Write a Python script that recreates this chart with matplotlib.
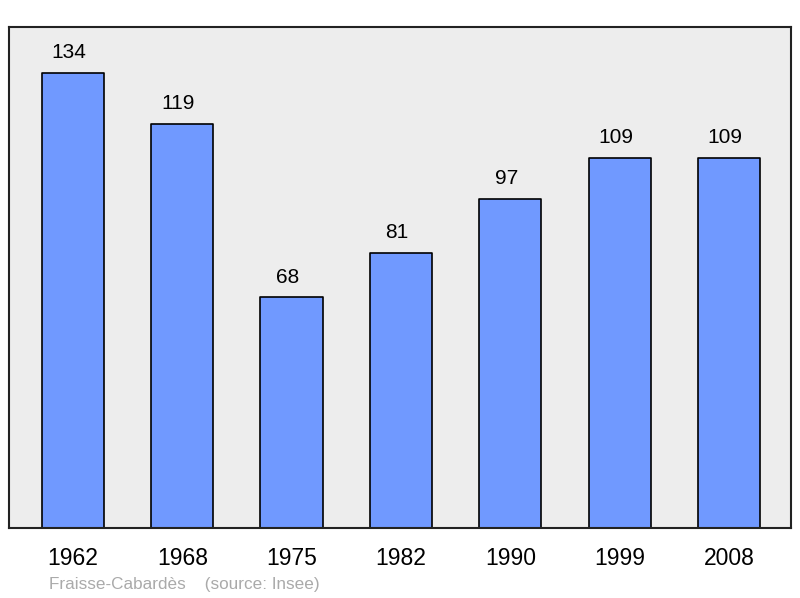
import numpy as np
import matplotlib
matplotlib.use("Agg")
import matplotlib.pyplot as plt

years = ["1962", "1968", "1975", "1982", "1990", "1999", "2008"]
population = [134, 119, 68, 81, 97, 109, 109]

plt.rcParams['font.family'] = ['Liberation Sans', 'DejaVu Sans']

fig = plt.figure(figsize=(8, 5.98), dpi=100)
ax = fig.add_axes([9/800, 70/598, 782/800, 501/598])
ax.set_facecolor("#ededed")

x = np.arange(len(years))
bars = ax.bar(x, population, width=0.57, color="#7099ff", edgecolor="black",
              linewidth=1.2, joinstyle="round", zorder=2)

for xi, v in zip(x, population):
    ax.annotate(str(v), (xi, v), xytext=(-3, 7.5), textcoords="offset points",
                ha="center", va="bottom", fontsize=15)

ax.set_xlim(-0.585, len(years) - 1 + 0.567)
ax.set_ylim(0, 147.5)
ax.set_xticks(x)
ax.set_xticklabels(years, fontsize=16.5)
ax.tick_params(axis="x", length=0, pad=14)
ax.set_yticks([])
for s in ax.spines.values():
    s.set_linewidth(1.5)
    s.set_color("#222222")

fig.text(49/800, 1 - 584/598, "Fraisse-Cabardès    (source: Insee)",
         color="#aaaaaa", fontsize=12.3, va="center", ha="left")

fig.savefig("out.png", dpi=100)
